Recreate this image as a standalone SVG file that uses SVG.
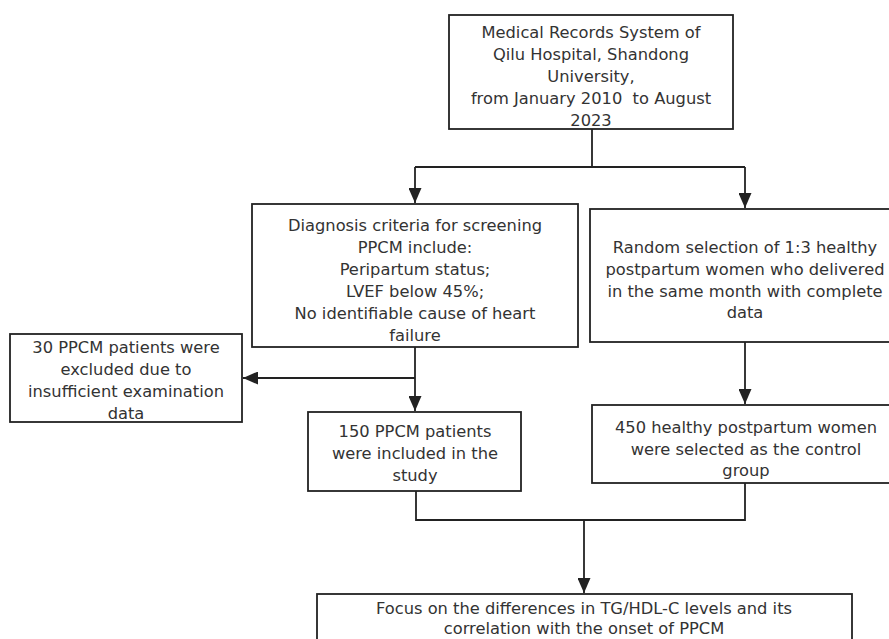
<svg xmlns="http://www.w3.org/2000/svg" width="889" height="639" viewBox="0 0 889 639">
<style>
.box{fill:#fff;stroke:#222;stroke-width:1.8}
.t{font-family:"DejaVu Sans",sans-serif;font-size:16.3px;fill:#333;text-anchor:middle}
.c{fill:none;stroke:#222;stroke-width:1.8}
</style>
<defs>
<marker id="ah" markerUnits="userSpaceOnUse" markerWidth="16" markerHeight="13" refX="15" refY="6.5" orient="auto">
<path d="M0,0 L15,6.5 L0,13 z" fill="#222"/>
</marker>
</defs>
<rect width="889" height="639" fill="#fff"/>
<g id="connectors">
<path class="c" d="M592,129 V167 M415,167 H745"/>
<path class="c" d="M415,167 V203" marker-end="url(#ah)"/>
<path class="c" d="M745,167 V208" marker-end="url(#ah)"/>
<path class="c" d="M415,347 V411" marker-end="url(#ah)"/>
<path class="c" d="M415,378 H243" marker-end="url(#ah)"/>
<path class="c" d="M745,342 V404" marker-end="url(#ah)"/>
<path class="c" d="M416,491 V520 H745 V483"/>
<path class="c" d="M584,520 V593" stroke-width="3" marker-end="url(#ah)"/>
</g>
<g id="n_source">
<rect class="box" x="449" y="15" width="284" height="114"/>
<text class="t" x="591" y="38">Medical Records System of</text>
<text class="t" x="591" y="60">Qilu Hospital, Shandong</text>
<text class="t" x="591" y="82">University,</text>
<text class="t" x="591" y="104" xml:space="preserve">from January 2010  to August</text>
<text class="t" x="591" y="126">2023</text>
</g>
<g id="n_criteria">
<rect class="box" x="252" y="204" width="326" height="143"/>
<text class="t" x="415" y="231">Diagnosis criteria for screening</text>
<text class="t" x="415" y="253">PPCM include:</text>
<text class="t" x="415" y="275">Peripartum status;</text>
<text class="t" x="415" y="297">LVEF below 45%;</text>
<text class="t" x="415" y="319">No identifiable cause of heart</text>
<text class="t" x="415" y="341">failure</text>
</g>
<g id="n_random">
<rect class="box" x="590" y="209" width="310" height="133"/>
<text class="t" x="745" y="253">Random selection of 1:3 healthy</text>
<text class="t" x="745" y="275">postpartum women who delivered</text>
<text class="t" x="745" y="297">in the same month with complete</text>
<text class="t" x="745" y="318">data</text>
</g>
<g id="n_excluded">
<rect class="box" x="10" y="334" width="232" height="88"/>
<text class="t" x="126" y="353">30 PPCM patients were</text>
<text class="t" x="126" y="375">excluded due to</text>
<text class="t" x="126" y="397">insufficient examination</text>
<text class="t" x="126" y="419">data</text>
</g>
<g id="n_included">
<rect class="box" x="308" y="412" width="213" height="79"/>
<text class="t" x="415" y="437">150 PPCM patients</text>
<text class="t" x="415" y="459">were included in the</text>
<text class="t" x="415" y="481">study</text>
</g>
<g id="n_control">
<rect class="box" x="592" y="405" width="310" height="78"/>
<text class="t" x="746" y="433">450 healthy postpartum women</text>
<text class="t" x="746" y="455">were selected as the control</text>
<text class="t" x="746" y="476">group</text>
</g>
<g id="n_focus">
<rect class="box" x="317" y="594" width="535" height="60"/>
<text class="t" x="584" y="614">Focus on the differences in TG/HDL-C levels and its</text>
<text class="t" x="584" y="634">correlation with the onset of PPCM</text>
</g>
</svg>
